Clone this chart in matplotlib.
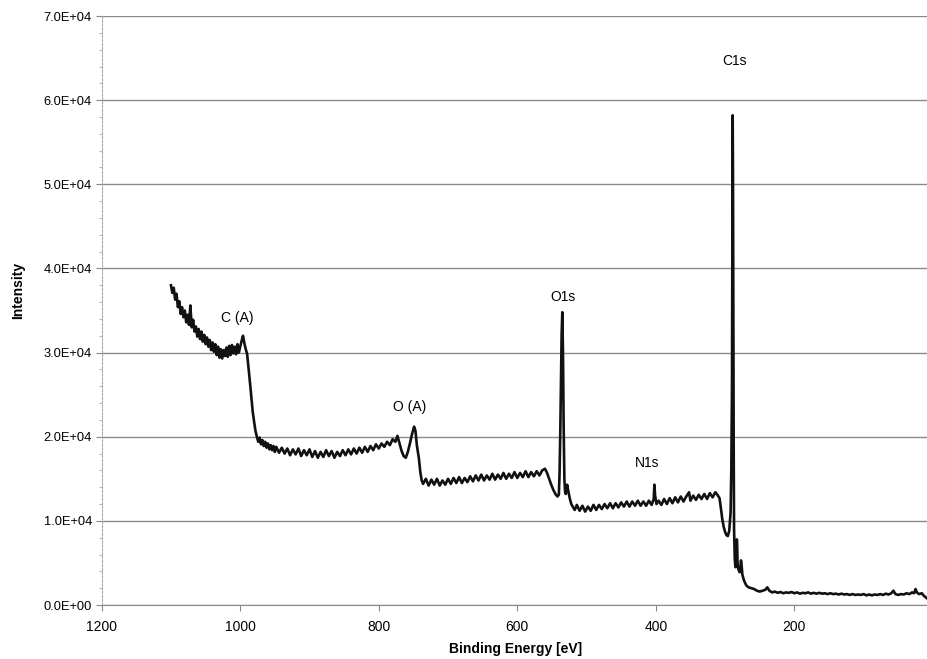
import matplotlib
matplotlib.use("Agg")
import matplotlib.pyplot as plt
from matplotlib.ticker import FuncFormatter, MultipleLocator

plt.rcParams["font.family"] = ["Liberation Sans", "DejaVu Sans"]

# survey spectrum: (binding energy eV, counts)
energy = [
    1100, 1098, 1096, 1094, 1092, 1090, 1088, 1086, 1084, 1082, 1080, 1078, 1076, 1074, 1072,
    1070, 1068, 1066, 1064, 1062, 1060, 1058, 1056, 1054, 1052, 1050, 1048, 1046, 1044, 1042,
    1040, 1038, 1036, 1034, 1032, 1030, 1028, 1026, 1024, 1022, 1020, 1018, 1016, 1014, 1012,
    1010, 1008, 1006, 1004, 1002, 1000, 998, 996, 994, 992, 990, 988, 986, 984, 982,
    980, 978, 976, 974, 972, 970, 968, 966, 964, 962, 960, 958, 956, 954, 952, 950,
    948, 944, 940, 936, 932, 928, 924, 920, 916, 912, 908, 904, 900, 896, 892, 888,
    884, 880, 876, 872, 868, 864, 860, 856, 852, 848, 844, 840, 836, 832, 828, 824,
    820, 816, 812, 808, 804, 800, 796, 792, 788, 784, 780, 776, 773, 770, 767, 764,
    761, 758, 755, 752, 749, 747, 745, 742, 740, 738, 736,
    732, 728, 724, 720, 716, 712, 708, 704, 700, 696, 692, 688, 684, 680, 676, 672,
    668, 664, 660, 656, 652, 648, 644, 640, 636, 632, 628, 624, 620, 616, 612, 608,
    604, 600, 596, 592, 588, 584, 580, 576, 572, 568, 564, 560, 557, 554, 551, 548,
    545, 542, 540, 539, 538, 537, 536, 535, 534, 533, 532, 531, 530, 528, 526, 524,
    522, 520, 517,
    514, 510, 506, 502, 498, 494, 490, 486, 482, 478, 474, 470, 466, 462, 458, 454,
    450, 446, 442, 438, 434, 430, 426, 422, 418, 414, 410, 406, 403, 402, 401, 399,
    396, 392, 388, 384, 380, 376, 372, 368, 364, 360, 356, 352, 350, 346, 342, 338,
    334, 330, 326, 322, 318, 314, 311, 308, 306, 304, 302, 300, 298, 296, 294, 292,
    291, 290, 289.5, 289, 288.5, 288, 287.5, 287, 286, 285, 284, 283, 282.5, 282, 281, 280,
    279, 278, 277, 276, 275, 273, 271, 269, 266, 262,
    258, 254, 250, 246, 242, 239, 236, 232, 228, 224, 220, 216, 212, 208, 204, 200,
    196, 192, 188, 184, 180, 176, 172, 168, 164, 160, 156, 152, 148, 144, 140, 136,
    132, 128, 124, 120, 116, 112, 108, 104, 100, 96, 92, 88, 84, 80, 76, 72,
    68, 64, 60, 57, 54, 50, 46, 42, 38, 34, 30, 27, 25, 23, 20, 16, 13, 10, 7,
]
counts = [
    38000, 37100, 37700, 36300, 37000, 35400, 36100, 34600, 35400, 34200, 35000, 33600, 34500, 33300, 35600,
    33000, 33900, 32500, 33100, 31900, 32800, 31600, 32500, 31300, 32100, 31000, 31800, 30700, 31500, 30300,
    31200, 30100, 31000, 29700, 30700, 29400, 30400, 29300, 30300, 29600, 30600, 29500, 30800, 29700, 30900,
    29900, 30700, 29800, 31000, 30000, 30700, 31400, 32000, 31100, 30400, 29800, 28200, 26500, 24800, 23000,
    21800, 20700, 20000, 19400, 19900, 19100, 19600, 18900, 19400, 18700, 19200, 18500, 19000, 18400, 18900, 18200,
    18800, 18100, 18700, 18000, 18600, 17800, 18500, 17900, 18600, 17700, 18400, 17800, 18500, 17600, 18300, 17500,
    18200, 17600, 18400, 17700, 18300, 17500, 18200, 17700, 18400, 17800, 18500, 17900, 18600, 18000, 18700, 18100,
    18800, 18200, 18900, 18400, 19100, 18600, 19200, 18800, 19400, 19000, 19700, 19400, 20100, 19200, 18300, 17700,
    17500, 18200, 19200, 20300, 21200, 20700, 19000, 17400, 15800, 14800, 14400,
    15000, 14200, 14900, 14300, 15000, 14200, 14800, 14300, 15000, 14400, 15100, 14500, 15200, 14500, 15100, 14600,
    15300, 14700, 15400, 14800, 15500, 14800, 15400, 14900, 15600, 14900, 15500, 15000, 15700, 15000, 15600, 15100,
    15800, 15100, 15700, 15200, 15900, 15200, 15800, 15300, 15900, 15400, 16000, 16200, 15700, 15000, 14300, 13700,
    13200, 12900, 13100, 15500, 20000, 26000, 32000, 34800, 30000, 21000, 15000, 13500, 13200, 14300, 13400, 12600,
    12000, 11700, 11300,
    11900, 11200, 11800, 11100, 11700, 11200, 11900, 11300, 11900, 11400, 12000, 11500, 12100, 11500, 12100, 11600,
    12200, 11700, 12300, 11700, 12300, 11800, 12400, 11800, 12300, 11800, 12400, 11900, 12600, 14300, 13000, 12000,
    12400, 11900, 12600, 12000, 12700, 12100, 12800, 12200, 12900, 12300, 12900, 13400, 12400, 13000, 12500, 13100,
    12600, 13200, 12600, 13300, 12800, 13400, 13100, 12700, 11500, 10200, 9300, 8700, 8300, 8200, 8800, 11000,
    16000, 26000, 40000, 58200, 50000, 32000, 18000, 9000, 5500, 4500, 4600, 7800, 7000, 5000, 4300, 4100,
    3900, 4200, 5300, 4600, 3600, 3000, 2600, 2300, 2100, 2000,
    1900, 1700, 1600, 1700, 1800, 2100, 1700, 1500, 1600, 1450, 1550, 1400, 1500, 1450, 1550, 1400,
    1500, 1350, 1450, 1400, 1500, 1350, 1450, 1350, 1450, 1350, 1400, 1300, 1400, 1300, 1350, 1250,
    1350, 1250, 1300, 1200, 1300, 1200, 1250, 1200, 1300, 1150, 1250, 1150, 1250, 1200, 1300, 1200,
    1350, 1250, 1400, 1700, 1300, 1200, 1300, 1250, 1400, 1300, 1500, 1400, 1900, 1500, 1300, 1400, 1100, 900, 700,
]

peak_labels = ["C1s", "O1s", "N1s", "C (A)", "O (A)"]
label_x = [286, 534.5, 412, 1004, 755]
label_y = [64600, 36600, 16900, 34100, 23500]

x_ticks = [1200, 1000, 800, 600, 400, 200]

fig = plt.figure(figsize=(9.28, 6.59), dpi=100)
ax = fig.add_axes([0.1096, 0.0819, 0.8904, 0.8938])

ax.plot(energy, counts, color="#111111", lw=1.9, solid_joinstyle="round")

ax.set_xlim(1200, 7)
ax.set_ylim(0, 70000)
ax.set_xticks(x_ticks)
ax.yaxis.set_major_locator(MultipleLocator(10000))
ax.yaxis.set_minor_locator(MultipleLocator(2000))
ax.yaxis.set_major_formatter(FuncFormatter(lambda v, p: f"{v:.1E}"))
ax.grid(axis="y", which="major", color="#8a8a8a", lw=1.0)
ax.set_axisbelow(True)

for s in ["top", "right"]:
    ax.spines[s].set_visible(False)
ax.spines["left"].set_color("#aaaaaa")
ax.spines["left"].set_linestyle((0, (2, 1.5)))
ax.spines["bottom"].set_color("#8a8a8a")

ax.tick_params(axis="y", which="major", length=4, color="#888888", labelsize=9.3, pad=3)
ax.tick_params(axis="y", which="minor", length=2, color="#aaaaaa")
ax.tick_params(axis="x", length=4, color="#888888", labelsize=10, pad=7)

for t, x, y in zip(peak_labels, label_x, label_y):
    ax.text(x, y, t, ha="center", va="center", fontsize=10)

fig.text(0.0195, 0.56, "Intensity", rotation=90, ha="center", va="center",
         fontsize=10, fontweight="bold")
fig.text(0.5560, 0.004, "Binding Energy [eV]", ha="center", va="bottom",
         fontsize=10, fontweight="bold")

fig.savefig("out.png", dpi=100)
